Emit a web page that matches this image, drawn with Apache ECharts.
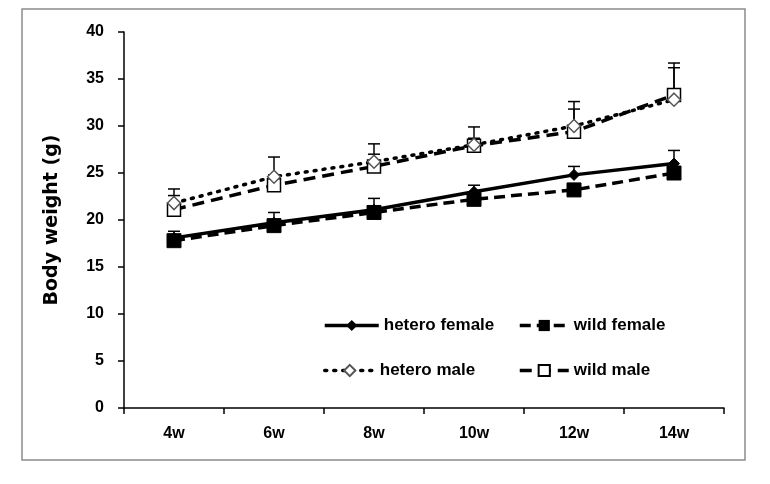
<!DOCTYPE html>
<html><head><meta charset="utf-8">
<script src="https://cdn.jsdelivr.net/npm/echarts@6/dist/echarts.min.js"></script>
<style>html,body{margin:0;padding:0;background:#fff}#c{width:770px;height:484px}</style>
</head><body><div id="c"></div>
<script>
var categories = ['4w','6w','8w','10w','12w','14w'];
var heteroFemale = [18.1, 19.7, 21.1, 23.0, 24.8, 26.0];
var heteroFemaleTop = [18.8, 20.8, 22.3, 23.7, 25.7, 27.4];
var wildFemale = [17.8, 19.4, 20.8, 22.2, 23.2, 25.0];
var wildFemaleTop = [18.3, 19.9, 21.3, 22.7, 23.7, 25.5];
var heteroMale = [21.8, 24.6, 26.2, 28.0, 30.0, 32.8];
var heteroMaleTop = [23.3, 26.7, 28.1, 29.9, 32.6, 36.2];
var wildMale = [21.1, 23.7, 25.7, 27.9, 29.4, 33.3];
var wildMaleTop = [22.6, 24.8, 27.0, 28.7, 31.8, 36.7];
var yTicks = [0, 5, 10, 15, 20, 25, 30, 35, 40];

var font = '"Liberation Sans", Arial, sans-serif';

function errSeries(vals, tops) {
  var data = vals.map(function (v, i) { return [i, v, tops[i]]; });
  return {
    type: 'custom', z: 1, silent: true,
    renderItem: function (params, api) {
      var lo = api.coord([api.value(0), api.value(1)]);
      var hi = api.coord([api.value(0), api.value(2)]);
      var st = { stroke: '#000', lineWidth: 1.5 };
      return { type: 'group', children: [
        { type: 'line', shape: { x1: lo[0], y1: lo[1], x2: hi[0], y2: hi[1] }, style: st },
        { type: 'line', shape: { x1: hi[0] - 6, y1: hi[1], x2: hi[0] + 6, y2: hi[1] }, style: st }
      ]};
    },
    data: data
  };
}

var chart = echarts.init(document.getElementById('c'));
var legendBase = { orient: 'horizontal', itemWidth: 54, itemHeight: 14, itemGap: 4, padding: 0,
  lineStyle: { width: 3.5 },
  textStyle: { fontFamily: font, fontSize: 17, fontWeight: 'bold', color: '#000' }, selectedMode: false };
chart.setOption({
  animation: false,
  graphic: [{ type: 'rect', shape: { x: 22, y: 9, width: 723, height: 451 },
    style: { fill: 'none', stroke: '#8c8c8c', lineWidth: 1.5 } }],
  grid: { left: 124, top: 32, right: 46, bottom: 76 },
  legend: [
    Object.assign({}, legendBase, { data: ['hetero female'], left: 323, top: 317 }),
    Object.assign({}, legendBase, { data: ['wild female'], left: 518, top: 317, itemWidth: 49, itemGap: 9 }),
    Object.assign({}, legendBase, { data: ['hetero male'], left: 323, top: 362, itemWidth: 50, itemGap: 8 }),
    Object.assign({}, legendBase, { data: ['wild male'], left: 518, top: 362, itemWidth: 49, itemGap: 9 })
  ],
  xAxis: {
    type: 'category', data: categories, boundaryGap: true,
    axisLine: { lineStyle: { color: '#000', width: 1.5 } },
    axisTick: { show: true, length: 6, lineStyle: { color: '#000', width: 1.5 } },
    axisLabel: { margin: 18, fontFamily: font, fontSize: 16, fontWeight: 'bold', color: '#000' }
  },
  yAxis: {
    type: 'value', min: 0, max: 40, interval: 5,
    name: 'Body weight (g)', nameLocation: 'middle', nameGap: 62,
    nameTextStyle: { fontFamily: '"DejaVu Sans", sans-serif', fontSize: 19, fontWeight: 'bold', color: '#000' },
    splitLine: { show: false },
    axisLine: { show: true, lineStyle: { color: '#000', width: 1.5 } },
    axisTick: { show: true, length: 6, lineStyle: { color: '#000', width: 1.5 } },
    axisLabel: { margin: 20, fontFamily: font, fontSize: 16, fontWeight: 'bold', color: '#000',
      formatter: function (v) { return yTicks.indexOf(v) >= 0 ? String(v) : ''; } }
  },
  series: [
    errSeries(heteroMale, heteroMaleTop),
    errSeries(wildMale, wildMaleTop),
    errSeries(heteroFemale, heteroFemaleTop),
    errSeries(wildFemale, wildFemaleTop),
    { name: 'wild male', type: 'line', data: wildMale, z: 3,
      symbol: 'rect', symbolSize: 13,
      lineStyle: { color: '#000', width: 3.5, type: [12, 7] },
      itemStyle: { color: '#fff', borderColor: '#000', borderWidth: 1.5 } },
    { name: 'hetero male', type: 'line', data: heteroMale, z: 4,
      symbol: 'diamond', symbolSize: 13,
      lineStyle: { color: '#000', width: 3.5, type: [2, 7], cap: 'round' },
      itemStyle: { color: '#fff', borderColor: '#555', borderWidth: 1.5 } },
    { name: 'wild female', type: 'line', data: wildFemale, z: 3,
      symbol: 'rect', symbolSize: 14,
      lineStyle: { color: '#000', width: 3.5, type: [11, 6] },
      itemStyle: { color: '#000', borderColor: '#000' } },
    { name: 'hetero female', type: 'line', data: heteroFemale, z: 4,
      symbol: 'diamond', symbolSize: 11,
      lineStyle: { color: '#000', width: 3.5, type: 'solid' },
      itemStyle: { color: '#000', borderColor: '#000' } }
  ]
});
</script></body></html>
